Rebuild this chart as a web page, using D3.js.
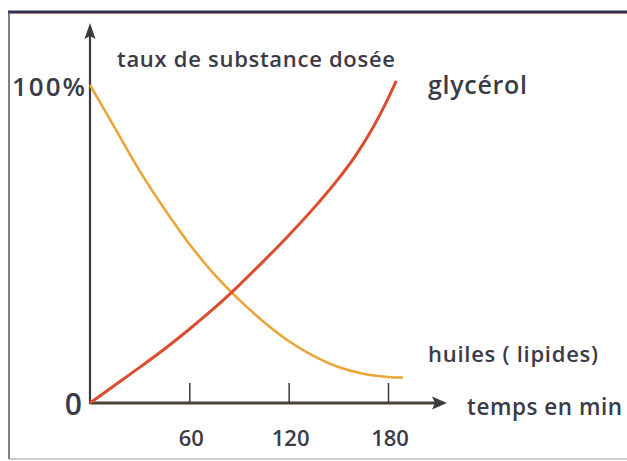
<!DOCTYPE html>
<html>
<head>
<meta charset="utf-8">
<script src="https://cdn.jsdelivr.net/npm/d3@7"></script>
<style>
  html, body { margin: 0; padding: 0; background: #fff; }
  svg { display: block; }
  text { font-family: "Open Sans", "DejaVu Sans", sans-serif; font-weight: 600; fill: #3b3b48; }
</style>
</head>
<body>
<svg id="chart" width="627" height="461"></svg>
<script>
// ---- data (minutes, percent) ----
const huilesTime   = [0, 15, 30, 45, 60, 75, 90, 105, 120, 135, 150, 165, 180, 189];
const huilesValue  = [100, 86.5, 73, 61, 50, 40.5, 32.5, 25.5, 19.5, 14.8, 11.3, 9.2, 8.2, 8];
const glycerolTime  = [0, 15, 30, 45, 60, 75, 90, 105, 120, 135, 150, 160, 170, 178, 185];
const glycerolValue = [0, 5.6, 11.2, 17, 23.2, 29.8, 37, 44.7, 52.7, 61.2, 70.5, 77.5, 85.8, 93.6, 101.3];
const xTicks = [60, 120, 180];
const yTickLabels = ["0", "100%"];

const svg = d3.select("#chart");
const W = 627, H = 461;

// frame
svg.append("line").attr("x1", 8).attr("x2", W).attr("y1", 12).attr("y2", 12)
  .attr("stroke", "#2f3050").attr("stroke-width", 3);
svg.append("line").attr("x1", 8).attr("x2", W).attr("y1", 13.5).attr("y2", 13.5)
  .attr("stroke", "#c0604a").attr("stroke-width", 0.8).attr("opacity", 0.6);
svg.append("line").attr("x1", 9).attr("x2", 9).attr("y1", 12).attr("y2", 459)
  .attr("stroke", "#555").attr("stroke-width", 1.5);
svg.append("line").attr("x1", 9).attr("x2", W).attr("y1", 459).attr("y2", 459)
  .attr("stroke", "#999").attr("stroke-width", 1);

const x = d3.scaleLinear().domain([0, 180]).range([90, 388]);
const y = d3.scaleLinear().domain([0, 100]).range([403, 85]);

const axisColor = "#3a3a3f";

// x axis line + arrow
svg.append("line").attr("x1", x(0)).attr("x2", 436).attr("y1", y(0)).attr("y2", y(0))
  .attr("stroke", "#4a4036").attr("stroke-width", 3);
svg.append("path").attr("d", `M447,${y(0)} L432,${y(0) - 6.5} L435,${y(0)} L432,${y(0) + 6.5} Z`)
  .attr("fill", axisColor);

// y axis line + arrow
svg.append("line").attr("x1", x(0)).attr("x2", x(0)).attr("y1", y(0) + 1).attr("y2", 34)
  .attr("stroke", axisColor).attr("stroke-width", 2.2);
svg.append("path").attr("d", `M${x(0)},23 L${x(0) - 5.5},39 L${x(0)},36 L${x(0) + 5.5},39 Z`)
  .attr("fill", axisColor);

// x ticks via d3 axis
const xAxis = d3.axisTop(x).tickValues(xTicks).tickSize(20).tickFormat("");
const gx = svg.append("g").attr("transform", `translate(0,${y(0)})`).call(xAxis);
gx.select(".domain").remove();
gx.selectAll(".tick line").attr("stroke", axisColor).attr("stroke-width", 1.5);

// x tick labels
svg.append("g").selectAll("text").data(xTicks).join("text")
  .attr("x", d => x(d) + 2).attr("y", 446)
  .attr("text-anchor", "middle").attr("font-size", 22).attr("font-weight", 500)
  .text(d => d);

// y labels
svg.append("text").attr("x", 82).attr("y", y(0) + 12).attr("text-anchor", "end")
  .attr("font-size", 30).attr("font-weight", 400).text(yTickLabels[0]);
svg.append("text").attr("x", 12).attr("y", 96)
  .attr("font-size", 26).attr("font-weight", 600)
  .attr("textLength", 73).attr("lengthAdjust", "spacing").text(yTickLabels[1]);

// curves
const line = d3.line().x(d => x(d[0])).y(d => y(d[1])).curve(d3.curveCatmullRom.alpha(0.5));
const huiles = huilesTime.map((t, i) => [t, huilesValue[i]]);
const glycerol = glycerolTime.map((t, i) => [t, glycerolValue[i]]);

svg.append("path").datum(huiles).attr("d", line)
  .attr("fill", "none").attr("stroke", "#eaa638").attr("stroke-width", 2.6);
svg.append("path").datum(glycerol).attr("d", line)
  .attr("fill", "none").attr("stroke", "#db4d2c").attr("stroke-width", 3);

// texts
svg.append("text").attr("x", 117).attr("y", 67).attr("font-size", 22)
  .attr("textLength", 278).attr("lengthAdjust", "spacing").text("taux de substance dosée");
svg.append("text").attr("x", 428).attr("y", 94).attr("font-size", 25).attr("font-weight", 700)
  .attr("textLength", 99).attr("lengthAdjust", "spacing").text("glycérol");
svg.append("text").attr("x", 428).attr("y", 362).attr("font-size", 22)
  .attr("textLength", 170).attr("lengthAdjust", "spacing").text("huiles ( lipides)");
svg.append("text").attr("x", 467).attr("y", 415).attr("font-size", 22.5)
  .attr("textLength", 155).attr("lengthAdjust", "spacing").text("temps en min");
</script>
</body>
</html>
